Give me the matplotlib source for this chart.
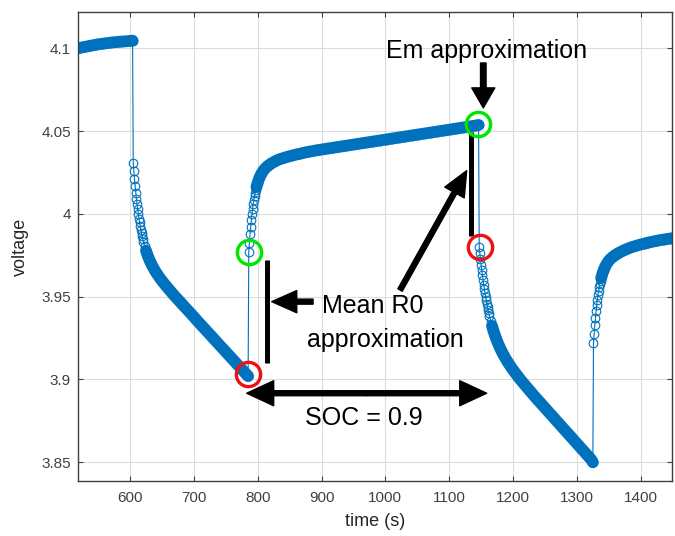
import matplotlib
matplotlib.use('Agg')
import matplotlib.pyplot as plt

plt.rcParams['font.family'] = ['Liberation Sans', 'DejaVu Sans']

# --- data (time in s, voltage) ---
rest1_t = [515, 518, 522, 526, 530, 534, 538, 542, 546, 550, 554, 558, 562, 566, 570,
           574, 578, 582, 586, 590, 594, 598, 602, 604]
rest1_v = [4.0998, 4.1000, 4.1003, 4.1006, 4.1009, 4.1012, 4.1015, 4.1018, 4.1021, 4.1024,
           4.1026, 4.1028, 4.1030, 4.1032, 4.1034, 4.1036, 4.1037, 4.1039, 4.1040, 4.1041,
           4.1042, 4.1044, 4.1045, 4.1046]

dis1_t = [605, 606, 607, 608, 609, 610, 611, 612, 613, 614, 615, 616, 617, 618, 619, 620,
          621, 623, 625, 628, 631, 635, 640, 645, 650, 655, 660, 665, 670, 675, 680, 685,
          690, 695, 700, 705, 710, 715, 720, 725, 730, 735, 740, 745, 750, 755, 760, 765,
          770, 775, 780, 785]
dis1_v = [4.0306, 4.0256, 4.0210, 4.0167, 4.0128, 4.0091, 4.0058, 4.0027, 3.9999, 3.9972,
          3.9948, 3.9925, 3.9904, 3.9884, 3.9866, 3.9849, 3.9833, 3.9804, 3.9778, 3.9745,
          3.9717, 3.9685, 3.9651, 3.9622, 3.9596, 3.9572, 3.9549, 3.9526, 3.9504, 3.9483,
          3.9462, 3.9441, 3.9420, 3.9399, 3.9378, 3.9356, 3.9335, 3.9314, 3.9293, 3.9272,
          3.9251, 3.9230, 3.9209, 3.9188, 3.9167, 3.9146, 3.9125, 3.9104, 3.9083, 3.9062,
          3.9041, 3.9020]

rest2_t = [786, 787, 788, 789, 790, 791, 792, 793, 794, 795, 796, 797, 798, 800, 802, 804,
           806, 809, 812, 816, 821, 826, 831, 836, 841, 846, 851, 856, 861, 866, 871, 876,
           881, 886, 891, 896, 901, 906, 911, 916, 921, 926, 931, 936, 941, 946, 951, 956,
           961, 966, 971, 976, 981, 986, 991, 996, 1001, 1006, 1011, 1016, 1021, 1026, 1031,
           1036, 1041, 1046, 1051, 1056, 1061, 1066, 1071, 1076, 1081, 1086, 1091, 1096,
           1101, 1106, 1111, 1116, 1121, 1126, 1131, 1136, 1141, 1146]
rest2_v = [3.9772, 3.9826, 3.9876, 3.9921, 3.9961, 3.9997, 4.0030, 4.0059, 4.0085, 4.0108,
           4.0128, 4.0146, 4.0162, 4.0189, 4.0211, 4.0229, 4.0244, 4.0262, 4.0276, 4.0290,
           4.0304, 4.0315, 4.0325, 4.0332, 4.0338, 4.0344, 4.0349, 4.0354, 4.0359, 4.0363,
           4.0368, 4.0372, 4.0376, 4.0379, 4.0383, 4.0386, 4.0389, 4.0392, 4.0395, 4.0398,
           4.0401, 4.0404, 4.0407, 4.0410, 4.0413, 4.0416, 4.0419, 4.0422, 4.0425, 4.0428,
           4.0431, 4.0434, 4.0437, 4.0440, 4.0443, 4.0446, 4.0449, 4.0452, 4.0455, 4.0458,
           4.0461, 4.0464, 4.0467, 4.0470, 4.0473, 4.0476, 4.0479, 4.0482, 4.0485, 4.0488,
           4.0491, 4.0494, 4.0497, 4.0500, 4.0503, 4.0506, 4.0509, 4.0512, 4.0515, 4.0518,
           4.0521, 4.0524, 4.0527, 4.0530, 4.0533, 4.0537]

dis2_t = [1147, 1148, 1149, 1150, 1151, 1152, 1153, 1154, 1155, 1156, 1157, 1158, 1159, 1160,
          1161, 1162, 1163, 1165, 1167, 1169, 1171, 1173, 1175, 1177, 1182, 1187, 1192, 1197,
          1202, 1207, 1212, 1217, 1222, 1227, 1232, 1237, 1242, 1247, 1252, 1257, 1262, 1267,
          1272, 1277, 1282, 1287, 1292, 1297, 1302, 1307, 1312, 1317, 1322, 1325]
dis2_v = [3.9800, 3.9762, 3.9725, 3.9691, 3.9659, 3.9628, 3.9600, 3.9572, 3.9547, 3.9522,
          3.9499, 3.9477, 3.9457, 3.9437, 3.9418, 3.9401, 3.9384, 3.9352, 3.9324, 3.9298,
          3.9274, 3.9252, 3.9232, 3.9213, 3.9171, 3.9135, 3.9103, 3.9074, 3.9047, 3.9022,
          3.8997, 3.8974, 3.8951, 3.8929, 3.8906, 3.8884, 3.8863, 3.8841, 3.8820, 3.8798,
          3.8777, 3.8755, 3.8734, 3.8712, 3.8691, 3.8669, 3.8648, 3.8626, 3.8605, 3.8583,
          3.8562, 3.8540, 3.8519, 3.8500]

rest3_t = [1326, 1327, 1328, 1329, 1330, 1331, 1332, 1333, 1334, 1335, 1336, 1337, 1338, 1340,
           1342, 1344, 1346, 1349, 1352, 1356, 1361, 1366, 1371, 1376, 1381, 1386, 1391, 1396,
           1401, 1406, 1411, 1416, 1421, 1426, 1431, 1436, 1441, 1446, 1451]
rest3_v = [3.9222, 3.9276, 3.9326, 3.9371, 3.9411, 3.9447, 3.9480, 3.9509, 3.9535, 3.9558,
           3.9578, 3.9596, 3.9612, 3.9639, 3.9661, 3.9679, 3.9694, 3.9712, 3.9726, 3.9740,
           3.9754, 3.9765, 3.9775, 3.9784, 3.9792, 3.9799, 3.9805, 3.9811, 3.9816, 3.9821,
           3.9826, 3.9830, 3.9834, 3.9838, 3.9842, 3.9845, 3.9848, 3.9851, 3.9854]

# index in each segment from which the markers merge into a solid band
band_from = [0, 18, 12, 18, 12]

# highlighted points (Em approximation in green, after-jump points in red)
green_t = [786.8, 1145.6]
green_v = [3.9772, 4.0543]
red_t = [785.3, 1148.1]
red_v = [3.9031, 3.9802]

xticks = [600, 700, 800, 900, 1000, 1100, 1200, 1300, 1400]
yticks = [3.85, 3.9, 3.95, 4.0, 4.05, 4.1]
ytick_labels = ['3.85', '3.9', '3.95', '4', '4.05', '4.1']

segments = [(rest1_t, rest1_v), (dis1_t, dis1_v), (rest2_t, rest2_v),
            (dis2_t, dis2_v), (rest3_t, rest3_v)]
time = rest1_t + dis1_t + rest2_t + dis2_t + rest3_t
volt = rest1_v + dis1_v + rest2_v + dis2_v + rest3_v

blue = '#0072BD'

fig = plt.figure(figsize=(6.75, 5.36), dpi=100)
ax = fig.add_axes([78 / 675, 1 - 481 / 536, 594 / 675, 469 / 536])

ax.plot(time, volt, color=blue, lw=0.8, marker='o', ms=6.2,
        mfc='none', mec=blue, mew=0.8, zorder=2)
# densely sampled stretches look like a solid thick band
for (t, v), i0 in zip(segments, band_from):
    ax.plot(t[i0:], v[i0:], color=blue, lw=8.5, solid_capstyle='round',
            solid_joinstyle='round', zorder=2)

ax.plot(green_t, green_v, 'o', ms=17.5, mfc='none', mec='#00E600', mew=2.4, zorder=4)
ax.plot(red_t, red_v, 'o', ms=17.5, mfc='none', mec='#F01010', mew=2.4, zorder=4)

ax.set_xlim(518.5, 1449)
ax.set_ylim(3.8387, 4.1219)
ax.set_xticks(xticks)
ax.set_yticks(yticks)
ax.set_yticklabels(ytick_labels)
ax.grid(True, color='#dcdcdc', lw=0.8)
ax.set_axisbelow(True)
ax.tick_params(direction='in', length=3.6, width=0.8, top=True, right=True,
               labelsize=11, colors='#404040')
ax.tick_params(axis='x', pad=7)
ax.tick_params(axis='y', pad=5)
for s in ax.spines.values():
    s.set_color('#404040')
    s.set_linewidth(1.0)

ax.set_xlabel('time (s)', fontsize=13, color='#262626')
ax.set_ylabel('voltage', fontsize=13, color='#262626')
ax.xaxis.set_label_coords(0.5, -0.068)
ax.yaxis.set_label_coords(-0.082, 0.5)


def arrow(x0, y0, x1, y1, hl, hw, tw):
    style = 'simple,head_length=%s,head_width=%s,tail_width=%s' % (hl, hw, tw)
    ax.annotate('', xy=(x1, y1), xytext=(x0, y0),
                arrowprops=dict(arrowstyle=style, mutation_scale=20, color='k',
                                shrinkA=0, shrinkB=0),
                annotation_clip=False, zorder=5)


# Em approximation
ax.text(1158.7, 4.0941, 'Em approximation', fontsize=18, ha='center', va='baseline')
arrow(1153.4, 4.0911, 1153.4, 4.0640, 0.72, 0.83, 0.2)

# R0 bars
ax.plot([1134, 1134], [3.9868, 4.0496], color='k', lw=3.6, solid_capstyle='butt', zorder=3)
ax.plot([814.5, 814.5], [3.9098, 3.9722], color='k', lw=3.6, solid_capstyle='butt', zorder=3)

# Mean R0 approximation
ax.text(981, 3.9402, 'Mean R0', fontsize=18, ha='center', va='baseline')
ax.text(1000.7, 3.9198, 'approximation', fontsize=18, ha='center', va='baseline')
arrow(1023, 3.954, 1127.4, 4.0261, 0.9, 0.8, 0.18)
arrow(886.7, 3.947, 822, 3.947, 0.9, 0.8, 0.18)

# SOC span
ax.text(966.5, 3.8725, 'SOC = 0.9', fontsize=18, ha='center', va='baseline')
arrow(970.7, 3.8917, 782.8, 3.8917, 0.97, 0.9, 0.18)
arrow(970.7, 3.8917, 1158.7, 3.8917, 0.97, 0.9, 0.18)

fig.savefig('out.png', dpi=100)
